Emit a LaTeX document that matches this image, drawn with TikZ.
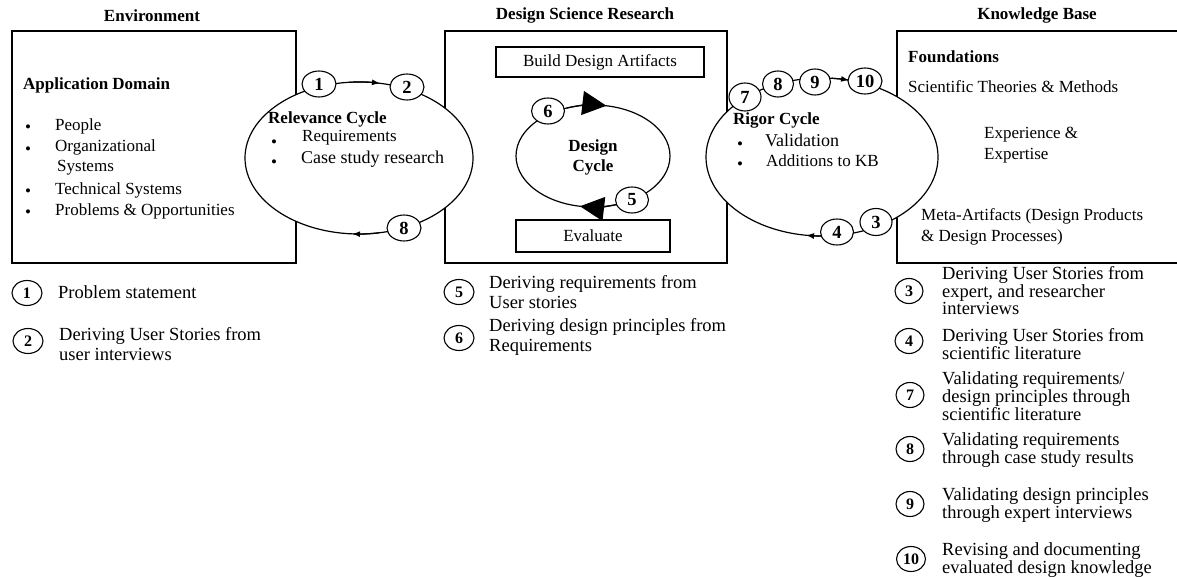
\documentclass[tikz,border=0pt]{standalone}
\usepackage{fontspec}
\setmainfont{Liberation Serif}
\usetikzlibrary{shapes.geometric,arrows.meta}
\begin{document}
\begin{tikzpicture}[x=1pt,y=1pt,
  frame/.style={draw,line width=1.2pt},
  cyc/.style={draw,fill=white,line width=1.2pt},
  head/.style={font=\fontsize{17}{20}\selectfont\bfseries,inner sep=0pt},
  txt/.style={font=\fontsize{17}{20}\selectfont,anchor=west,inner sep=0pt},
  dot/.style={font=\fontsize{17}{20}\selectfont,anchor=west,inner sep=0pt,yshift=-3.5pt},
  btxt/.style={font=\fontsize{17}{20}\selectfont\bfseries,anchor=west,inner sep=0pt},
  ctxt/.style={font=\fontsize{18}{20}\selectfont,anchor=west,inner sep=0pt},
  ctr/.style={font=\fontsize{17}{20}\selectfont,inner sep=0pt},
  num/.style={ellipse,draw,fill=white,line width=1.1pt,minimum width=34pt,
    minimum height=26pt,inner sep=0pt,font=\fontsize{18.5}{20}\selectfont\bfseries},
  lnum/.style={ellipse,draw,fill=white,line width=1.1pt,minimum width=30pt,
    minimum height=25pt,inner sep=0pt,font=\fontsize{16}{18}\selectfont\bfseries},
  leg/.style={font=\fontsize{18.5}{20}\selectfont,anchor=west,align=left,inner sep=0pt},
  legt/.style={font=\fontsize{18.5}{15.5}\selectfont,anchor=west,align=left,inner sep=0pt},
  tip/.style={line width=1.2pt,-{Latex[length=8pt,width=6pt]}},
  bigtip/.style={line width=1.2pt,-{Triangle[length=24pt,width=24pt]}},
]
\useasboundingbox (0,0) rectangle (1177,-577);
\fill[white] (0,0) rectangle (1177,-577);

% column titles
\node[head] (envT) at (152,-16) {Environment};
\node[head] (dsrT) at (585,-15) {Design Science Research};
\node[head] (kbT) at (1037,-15) {Knowledge Base};

% the three panels
\node[frame,minimum width=284pt,minimum height=232pt,inner sep=0pt] (env) at (154,-147) {};
\node[frame,minimum width=282pt,minimum height=232pt,inner sep=0pt] (dsr) at (586,-147) {};
\draw[frame] (1177,-31) -- (897,-31) -- (897,-263) -- (1177,-263);

% Environment content
\node[btxt] (appdom) at (23,-85) {Application Domain};
\foreach \yy in {125,147,189,210} \node[dot] at (25,-\yy) {•};
\node[txt] (people) at (55,-126) {People};
\node[txt] (orgsys) at (55,-147) {Organizational};
\node[txt] (orgsys2) at (57,-168) {Systems};
\node[txt] (techsys) at (55,-190) {Technical Systems};
\node[txt] (probs) at (55,-211) {Problems \& Opportunities};

% Design science research content
\node[frame,minimum width=208pt,minimum height=30pt,inner sep=0pt,font=\fontsize{17}{20}\selectfont] (build) at (600,-62) {Build Design Artifacts};
\node[frame,minimum width=154pt,minimum height=32pt,inner sep=0pt,font=\fontsize{17}{20}\selectfont] (eval) at (593,-236) {Evaluate};

% relevance cycle
\draw[cyc] (359,-158) ellipse [x radius=114, y radius=76];
\draw[tip] (359,-158) ++(95:114 and 76) arc[start angle=95,end angle=79.4,x radius=114,y radius=76];
\draw[tip] (359,-158) ++(280:114 and 76) arc[start angle=280,end angle=266.5,x radius=114,y radius=76];
\node[btxt] (relT) at (268,-119) {Relevance Cycle};
\node[dot] at (271,-140) {•};
\node[dot] at (271,-160) {•};
\node[txt] (req) at (302,-138) {Requirements};
\node[ctxt] (csr) at (301,-159) {Case study research};

% design cycle
\draw[cyc] (593,-156) ellipse [x radius=77, y radius=51];
\draw[bigtip] (593,-156) ++(110:77 and 51) arc[start angle=110,end angle=80,x radius=77,y radius=51];
\draw[bigtip] (593,-156) ++(290:77 and 51) arc[start angle=290,end angle=260.3,x radius=77,y radius=51];
\node[ctr,font=\fontsize{17}{20}\selectfont\bfseries] (dcA) at (593,-147) {Design};
\node[ctr,font=\fontsize{17}{20}\selectfont\bfseries] (dcB) at (593,-167) {Cycle};

% rigor cycle
\draw[cyc] (822,-157) ellipse [x radius=116, y radius=79];
\draw[tip] (822,-157) ++(85:116 and 79) arc[start angle=85,end angle=76.5,x radius=116,y radius=79];
\draw[tip] (822,-157) ++(277:116 and 79) arc[start angle=277,end angle=262.1,x radius=116,y radius=79];
\node[btxt] (rigT) at (733,-120) {Rigor Cycle};
\node[dot] at (737,-142) {•};
\node[dot] at (737,-162) {•};
\node[ctxt] (valid) at (765,-140) {Validation};
\node[txt] (addkb) at (766,-161) {Additions to KB};

% Knowledge base content
\node[btxt] (found) at (908,-57) {Foundations};
\node[txt] (theo) at (908,-87) {Scientific Theories \& Methods};
\node[txt,align=left,font=\fontsize{17}{20.5}\selectfont] (expert) at (984,-145) {Experience \&\\Expertise};
\node[txt,align=left,font=\fontsize{17}{21}\selectfont] (meta) at (921,-227) {Meta-Artifacts (Design Products\\\& Design Processes)};

% step markers on the cycles
\node[num] (r1) at (319,-84) {1};
\node[num] (r2) at (407,-87) {2};
\node[num] (r8) at (404,-228) {8};
\node[num,minimum width=33pt] (d6) at (548,-111) {6};
\node[num,minimum width=33pt] (d5) at (632,-200) {5};
\node[num,minimum width=32pt,minimum height=28pt] (g7) at (745,-97) {7};
\node[num,minimum width=31pt] (g8) at (778,-84) {8};
\node[num,minimum width=31pt] (g9) at (815,-82) {9};
\node[num,minimum width=34pt] (g10) at (865,-81) {10};
\node[num,minimum width=32pt,minimum height=27pt] (g3) at (876,-222) {3};
\node[num,minimum width=33pt] (g4) at (837,-232) {4};

% legend, left column
\node[lnum] (l1) at (27,-293) {1};
\node[leg] (l1t) at (58,-292) {Problem statement};
\node[lnum] (l2) at (28,-341) {2};
\node[leg] (l2t) at (59,-344) {Deriving User Stories from\\user interviews};

% legend, middle column
\node[lnum] (l5) at (459,-292) {5};
\node[leg] (l5t) at (489,-292) {Deriving requirements from\\User stories};
\node[lnum] (l6) at (459,-338) {6};
\node[leg] (l6t) at (489,-337) {Deriving design principles from\\Requirements};

% legend, right column
\node[lnum,minimum width=28pt] (l3) at (909,-291) {3};
\node[legt] (l3t) at (942,-291) {Deriving User Stories from\\expert, and researcher\\interviews};
\node[lnum,minimum width=28pt] (l4) at (909,-341) {4};
\node[legt] (l4t) at (942,-344) {Deriving User Stories from\\scientific literature};
\node[lnum,minimum width=28pt] (l7) at (910,-395) {7};
\node[legt] (l7t) at (942,-396) {Validating requirements/\\design principles through\\scientific literature};
\node[lnum,minimum width=28pt] (l8) at (910,-449) {8};
\node[legt] (l8t) at (942,-450) {Validating requirements\\through case study results};
\node[lnum,minimum width=28pt] (l9) at (910,-504) {9};
\node[legt] (l9t) at (942,-505) {Validating design principles\\through expert interviews};
\node[lnum,minimum width=29pt] (l10) at (911,-559) {10};
\node[legt] (l10t) at (942,-560) {Revising and documenting\\evaluated design knowledge};
\end{tikzpicture}
\end{document}
